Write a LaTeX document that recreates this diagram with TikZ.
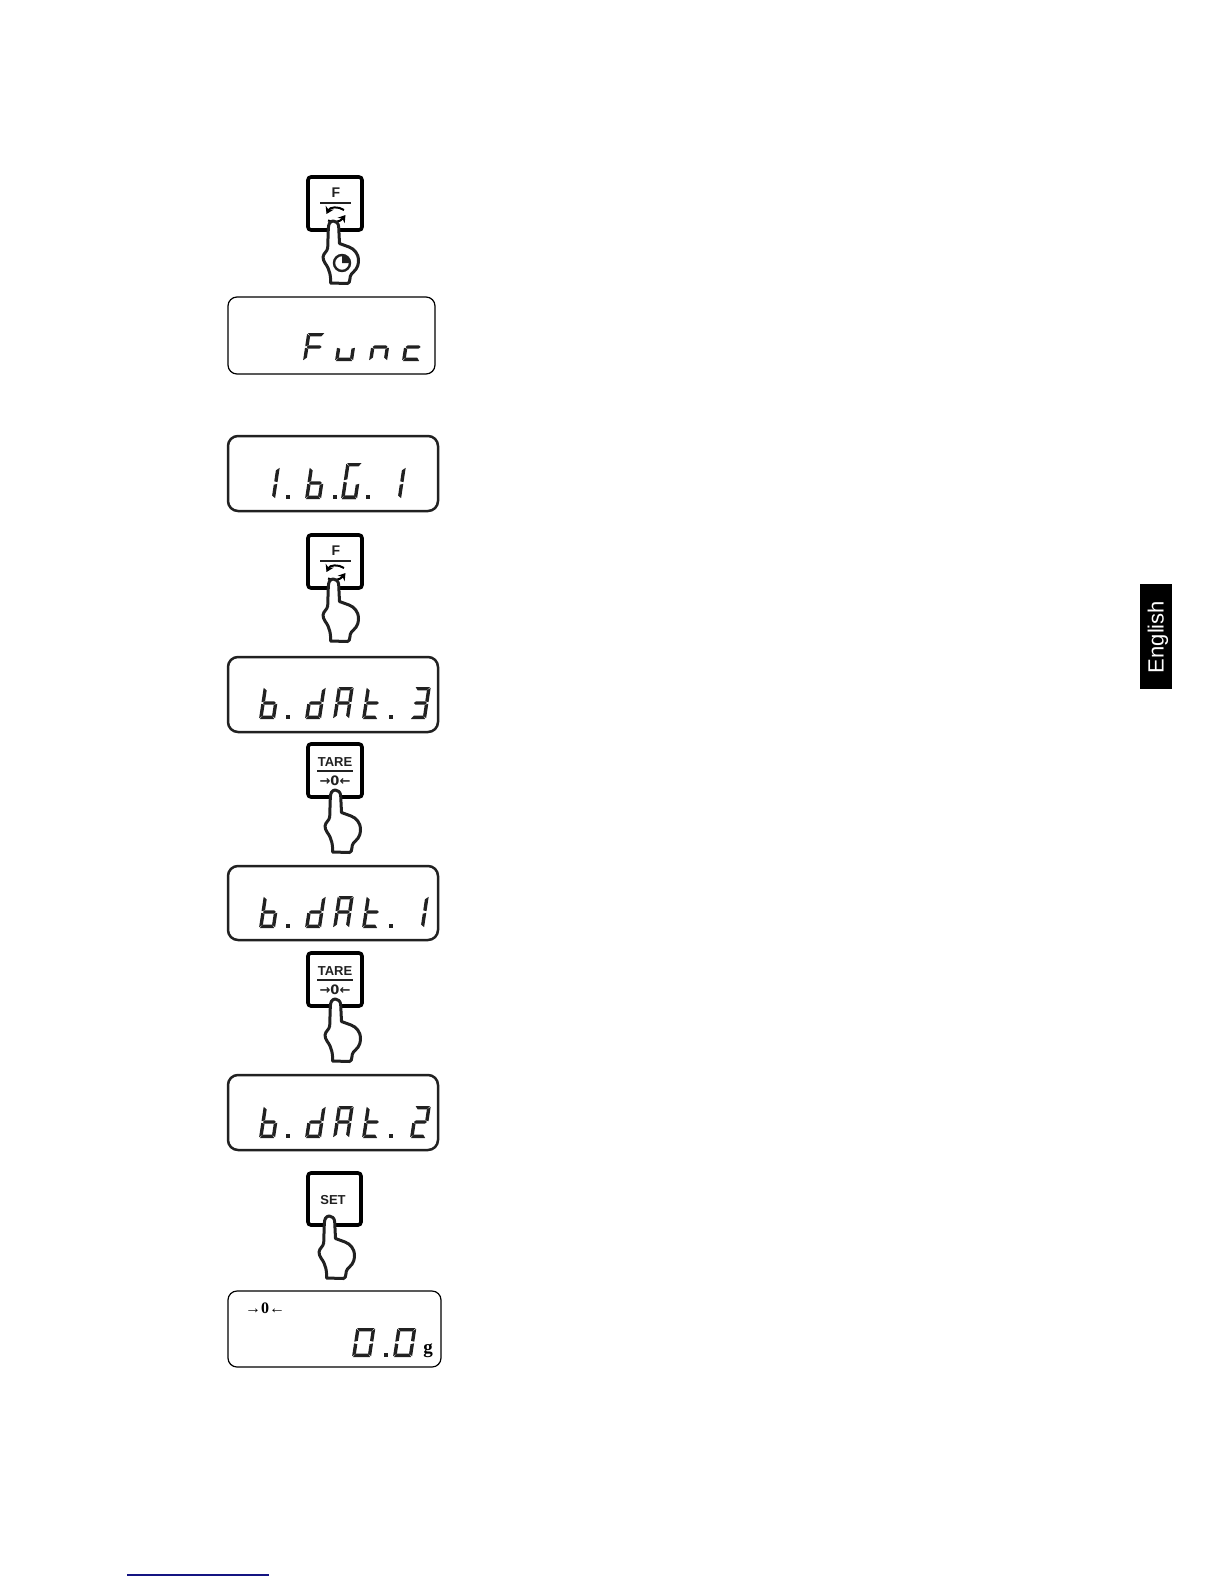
\documentclass[tikz,border=0pt]{standalone}
\usepackage{fontspec}
\setmainfont{Liberation Sans}
\newfontfamily\serifx{Liberation Serif}
\newfontfamily\dejab{DejaVu Sans}
\usetikzlibrary{arrows.meta}
\definecolor{ink}{gray}{0.13}
\def\segW{16}\def\segH{32}\def\segT{3.4}
\newcommand\SgA{\fill[ink] (.8,-\segH) -- (\segW-.8,-\segH) -- (\segW-\segT,-\segH+\segT) -- (\segT,-\segH+\segT) -- cycle;}
\newcommand\SgD{\fill[ink] (.8,0) -- (\segW-.8,0) -- (\segW-\segT,-\segT) -- (\segT,-\segT) -- cycle;}
\newcommand\SgG{\fill[ink] (1.5,-\segH/2) -- (\segT,-\segH/2-\segT/2) -- (\segW-\segT,-\segH/2-\segT/2) -- (\segW-1.5,-\segH/2) -- (\segW-\segT,-\segH/2+\segT/2) -- (\segT,-\segH/2+\segT/2) -- cycle;}
\newcommand\SgF{\fill[ink] (0,-\segH+.8) -- (\segT,-\segH+\segT) -- (\segT,-\segH/2-\segT/2) -- (0,-\segH/2-.8) -- cycle;}
\newcommand\SgE{\fill[ink] (0,-.8) -- (\segT,-\segT) -- (\segT,-\segH/2+\segT/2) -- (0,-\segH/2+.8) -- cycle;}
\newcommand\SgB{\fill[ink] (\segW,-\segH+.8) -- (\segW-\segT,-\segH+\segT) -- (\segW-\segT,-\segH/2-\segT/2) -- (\segW,-\segH/2-.8) -- cycle;}
\newcommand\SgC{\fill[ink] (\segW,-.8) -- (\segW-\segT,-\segT) -- (\segW-\segT,-\segH/2+\segT/2) -- (\segW,-\segH/2+.8) -- cycle;}
\newcommand\Dgt[3]{\begin{scope}[shift={(#1,#2)},xslant=.15]#3\end{scope}}
\newcommand\Dot[2]{\fill[ink] (#1-1.8,#2-3.6) rectangle (#1+1.8,#2);}
\newcommand\dB{\SgF\SgE\SgG\SgC\SgD}
\newcommand\dD{\SgB\SgC\SgG\SgE\SgD}
\newcommand\dA{\SgA\SgB\SgC\SgE\SgF\SgG}
\newcommand\dT{\SgF\SgE\SgG\SgD}
\newcommand\dThree{\SgA\SgB\SgG\SgC\SgD}
\newcommand\dOne{\SgB\SgC}
\newcommand\dTwo{\SgA\SgB\SgG\SgE\SgD}
\newcommand\dZero{\SgA\SgB\SgC\SgD\SgE\SgF}
\tikzset{
  x=0.5pt,y=-0.5pt,
  lcd/.style={draw=ink,line width=1.25pt,rounded corners=5pt},
  lcdthin/.style={draw=black,line width=0.6pt,rounded corners=4.5pt},
  keybox/.style={draw=black,line width=1.8pt,rounded corners=1.5pt,fill=white},
  keyfont/.style={inner sep=0pt,font=\fontsize{7}{8}\selectfont\bfseries,text=ink},
  keybold/.style={inner sep=0pt,font=\fontsize{6.5}{8}\selectfont\bfseries,text=ink},
  keyarrow/.style={inner sep=0pt,font=\dejab\fontsize{6.5}{8}\selectfont\bfseries,text=ink},
  keyrule/.style={draw=ink,line width=0.6pt},
  cyc/.style={draw=black,line width=1pt,-{Stealth[length=3.5pt,width=4.4pt]}},
  handline/.style={draw=ink,line width=1.5pt,fill=white,line join=round},
  hand/.pic={
    \draw[handline] (25.3,44) .. controls (22,44) and (20.3,47) .. (20.3,52)
      -- (19.7,71) .. controls (19,75) and (15.5,76) .. (15,80)
      .. controls (15,85) and (19,88) .. (20,91)
      .. controls (21,95) and (23,96) .. (22.5,106)
      -- (39.5,106.5) .. controls (43,106) and (41,99) .. (43.5,97)
      .. controls (47,93) and (50,92) .. (50.5,84)
      .. controls (50.5,76) and (46,72) .. (41,70)
      -- (31.5,66.5) -- (30.7,50) .. controls (30.5,46) and (28,44) .. (25.3,44) -- cycle;
  },
  fsym/.pic={
    \draw[keyrule] (12,26) -- (43,26);
    \draw[cyc] (36,33) .. controls (30,29) and (22,30) .. (18.5,37);
    \draw[cyc] (20,43.5) .. controls (26,46) and (32,45) .. (37.5,38);
  },
  tsym/.pic={
    \draw[keyrule] (9,27) -- (45,27);
  }
}
\begin{document}
\begin{tikzpicture}
\useasboundingbox (0,0) rectangle (1224,1584);
\fill[white] (0,0) rectangle (1224,1584);

% --- F key with timed press
\draw[keybox] (308,177) rectangle (362,230);
\node[keyfont] (f1) at (336,193) {F};
\pic at (308,177) {fsym};
\pic at (308,177) {hand};
\draw[ink,line width=1.2pt,fill=white] (342,263) circle (4pt);
\fill[ink] (342,263) -- (350,263) arc[start angle=0,end angle=90,radius=4pt] -- cycle;

% --- Func
\draw[lcdthin] (228,297) rectangle (435,374);
\def\segH{28}\def\segW{18}
\Dgt{303}{361}{\SgA\SgF\SgG\SgE}
\Dgt{335}{361}{\SgE\SgD\SgC}
\Dgt{369}{361}{\SgE\SgG\SgC}
\Dgt{402}{361}{\SgE\SgG\SgD}

% --- 1.bG.1
\def\segH{32}\def\segW{16}
\draw[lcd] (228,436) rectangle (438,511);
\Dgt{259}{499}{\dOne}
\Dot{288}{499}
\Dgt{305}{499}{\dB}
\Dot{335}{499}
\begin{scope}[shift={(341,499)},xslant=.15]\def\segH{36}\SgA\SgF\SgE\SgD\end{scope}
\begin{scope}[shift={(341,499)},xslant=.15]\SgC\SgD\end{scope}
\Dot{368}{499}
\Dgt{385}{499}{\dOne}

% --- F key
\draw[keybox] (308,535) rectangle (362,588);
\node[keyfont] (f2) at (336,551) {F};
\pic at (308,535) {fsym};
\pic at (308,535) {hand};

% --- b.dAt.3
\draw[lcd] (228,657) rectangle (438,732);
\Dgt{259}{719}{\dB}
\Dot{288}{719}
\Dgt{305}{719}{\dD}
\Dgt{333}{719}{\dA}
\Dgt{362}{719}{\dT}
\Dot{391}{719}
\Dgt{410}{719}{\dThree}

% --- TARE 1
\draw[keybox] (308,744) rectangle (362,797);
\node[keybold] (t1) at (335,762) {TARE};
\pic at (308,744) {tsym};
\node[keyarrow] (t1b) at (335,780.5) {→0←};
\pic at (310,746) {hand};

% --- b.dAt.1
\draw[lcd] (228,866) rectangle (438,940);
\Dgt{259}{928}{\dB}
\Dot{288}{928}
\Dgt{305}{928}{\dD}
\Dgt{333}{928}{\dA}
\Dgt{362}{928}{\dT}
\Dot{391}{928}
\Dgt{408}{928}{\dOne}

% --- TARE 2
\draw[keybox] (308,953) rectangle (362,1006);
\node[keybold] (t2) at (335,971) {TARE};
\pic at (308,953) {tsym};
\node[keyarrow] (t2b) at (335,989.5) {→0←};
\pic at (310,955) {hand};

% --- b.dAt.2
\draw[lcd] (228,1075) rectangle (438,1150);
\Dgt{259}{1138}{\dB}
\Dot{288}{1138}
\Dgt{305}{1138}{\dD}
\Dgt{333}{1138}{\dA}
\Dgt{362}{1138}{\dT}
\Dot{391}{1138}
\Dgt{410}{1138}{\dTwo}

% --- SET
\draw[keybox] (308,1173) rectangle (361,1225);
\node[keybold] (s1) at (333,1200) {SET};
\pic at (304,1172) {hand};

% --- 0.0 g
\draw[lcdthin] (228,1291) rectangle (441,1367);
\node[inner sep=0pt,font=\serifx\fontsize{8}{9}\selectfont\bfseries] (z0) at (265,1308) {→0←};
\def\segH{29}\def\segW{19}
\Dgt{352}{1357}{\dZero}
\Dot{386}{1357}
\Dgt{393}{1357}{\dZero}
\node[inner sep=0pt,font=\serifx\fontsize{9.5}{10}\selectfont\bfseries,anchor=base] (gunit) at (428,1353) {g};

% --- side tab
\fill[black] (1140,584) rectangle (1172,689);
\node[rotate=90,inner sep=0pt,text=white,font=\fontsize{11}{12}\selectfont] (tab) at (1158,637) {English};

% --- footer rule
\draw[draw={rgb,255:red,20;green,20;blue,130},line width=0.75pt] (127,1575) -- (269,1575);
\end{tikzpicture}
\end{document}
